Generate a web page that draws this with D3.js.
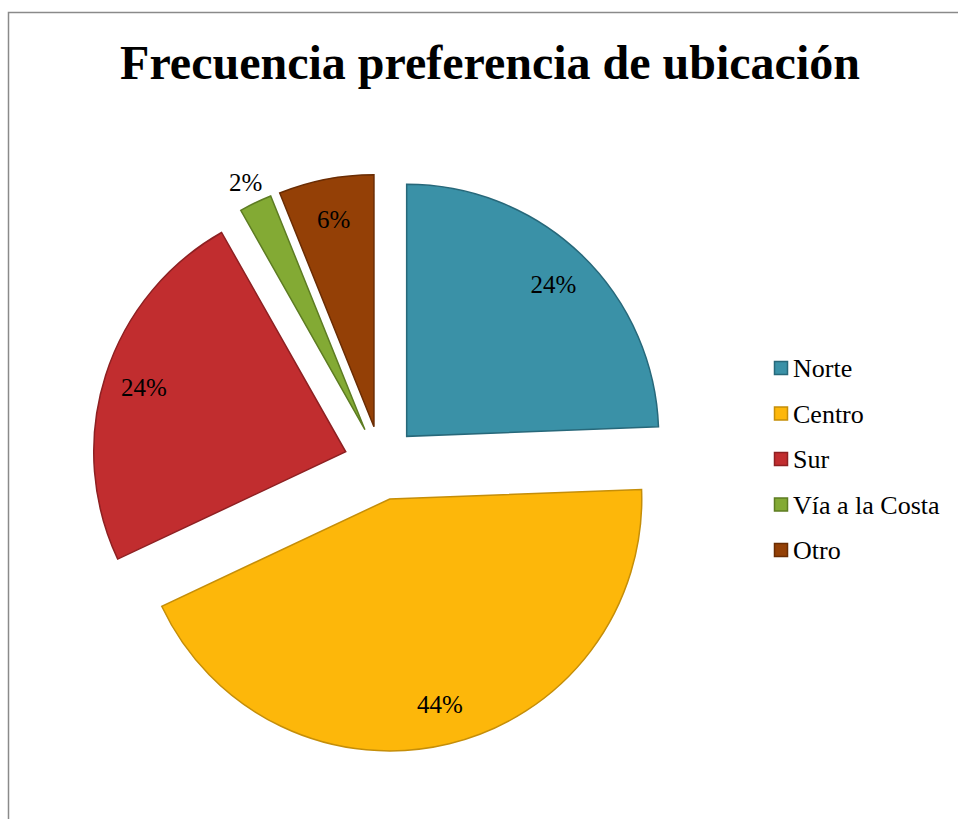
<!DOCTYPE html>
<html>
<head>
<meta charset="utf-8">
<script src="https://cdn.jsdelivr.net/npm/d3@7"></script>
<style>
  html, body { margin: 0; padding: 0; background: #fff; }
  svg { display: block; }
</style>
</head>
<body>
<svg id="chart" width="958" height="819"></svg>
<script>
const categories = ["Norte", "Centro", "Sur", "Vía a la Costa", "Otro"];
const values = [24.4, 43.6, 23.8, 2.1, 6.1];
const labels = ["24%", "44%", "24%", "2%", "6%"];
const fills = ["#3A91A7", "#FDB70A", "#C12D2F", "#83AA34", "#944006"];
const strokes = ["#27687A", "#C58E09", "#8E2022", "#5D7C22", "#6A2C03"];
const outsideLabel = [false, false, false, true, false];
const title = "Frecuencia preferencia de ubicación";

const svg = d3.select("#chart");
const W = 958, H = 819;
const serif = "'Liberation Serif', 'Times New Roman', serif";

// chart border (extends beyond the visible area on right and bottom)
svg.append("rect")
  .attr("x", 8.5).attr("y", 12.5)
  .attr("width", W + 20).attr("height", H + 20)
  .attr("fill", "#fff")
  .attr("stroke", "#8a8a8a")
  .attr("stroke-width", 1.5);

svg.append("text")
  .attr("x", 490).attr("y", 79)
  .attr("text-anchor", "middle")
  .attr("font-family", serif)
  .attr("font-weight", "bold")
  .attr("font-size", 48)
  .attr("fill", "#000")
  .text(title);

const cx = 381, cy = 463, r = 252, explode = 37;
const pie = d3.pie().sort(null).startAngle(0).endAngle(2 * Math.PI);
const arcs = pie(values);
const arc = d3.arc().innerRadius(0).outerRadius(r);

const g = svg.append("g").attr("transform", `translate(${cx},${cy})`);

const slice = g.selectAll("g.slice").data(arcs).enter().append("g")
  .attr("class", "slice")
  .attr("transform", d => {
    const m = (d.startAngle + d.endAngle) / 2;
    return `translate(${explode * Math.sin(m)},${-explode * Math.cos(m)})`;
  });

slice.append("path")
  .attr("d", arc)
  .attr("fill", (d, i) => fills[i])
  .attr("stroke", (d, i) => strokes[i])
  .attr("stroke-width", 1.5)
  .attr("stroke-linejoin", "miter");

function labelPos(d, i) {
  const m = (d.startAngle + d.endAngle) / 2;
  const lr = outsideLabel[i] ? r * 1.09 : r * 0.84;
  return [lr * Math.sin(m), -lr * Math.cos(m)];
}

slice.append("text")
  .attr("x", (d, i) => labelPos(d, i)[0])
  .attr("y", (d, i) => labelPos(d, i)[1])
  .attr("dy", "0.35em")
  .attr("text-anchor", "middle")
  .attr("font-family", serif)
  .attr("font-size", 25)
  .attr("fill", "#000")
  .text((d, i) => labels[i]);

// legend
const legY = d3.scalePoint().domain(categories).range([368, 550]);
const leg = svg.append("g");
const item = leg.selectAll("g").data(categories).enter().append("g")
  .attr("transform", d => `translate(0,${legY(d)})`);
item.append("rect")
  .attr("x", 774.5).attr("y", -6.5)
  .attr("width", 13).attr("height", 13)
  .attr("fill", (d, i) => fills[i])
  .attr("stroke", (d, i) => strokes[i])
  .attr("stroke-width", 1.5);
item.append("text")
  .attr("x", 793).attr("y", 0)
  .attr("dy", "0.35em")
  .attr("font-family", serif)
  .attr("font-size", 26)
  .attr("fill", "#000")
  .text(d => d);
</script>
</body>
</html>
